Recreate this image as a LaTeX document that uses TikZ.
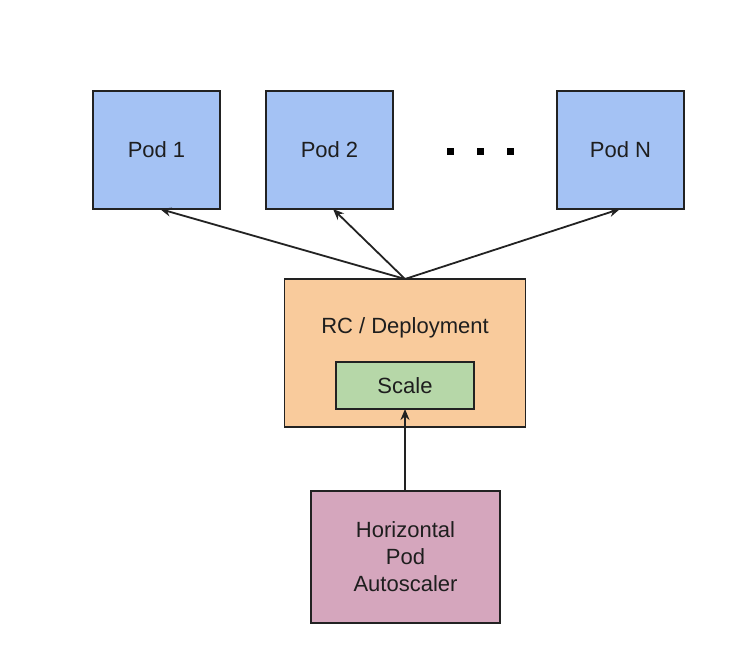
\documentclass[tikz,border=0pt]{standalone}
\usepackage{fontspec}
\setmainfont{Liberation Sans}
\usetikzlibrary{arrows.meta}
\definecolor{podblue}{HTML}{A4C2F4}
\definecolor{rcorange}{HTML}{F9CB9C}
\definecolor{scalegreen}{HTML}{B6D7A8}
\definecolor{hpapink}{HTML}{D5A6BD}
\definecolor{edge}{HTML}{222222}
\definecolor{txt}{HTML}{1E1E1E}
\begin{document}
\begin{tikzpicture}[x=1pt,y=-1pt,
  box/.style={draw=edge,line width=1.8pt,inner sep=0pt,outer sep=0pt,text=txt,font=\fontsize{22}{27}\selectfont,align=center},
  podbox/.style={box,fill=podblue,minimum width=127pt,minimum height=118pt},
  conn/.style={draw=edge,line width=1.8pt,-{Stealth[length=11pt,width=9pt]}},
  dotsq/.style={fill=black,minimum size=7pt,inner sep=0pt}]
\useasboundingbox (0,0) rectangle (747,667);
\node[podbox] (p1) at (156.5,150) {Pod 1};
\node[podbox] (p2) at (329.5,150) {Pod 2};
\node[podbox] (pn) at (620.5,150) {Pod N};
\node[dotsq] (d1) at (450,151) {};
\node[dotsq] (d2) at (480,151) {};
\node[dotsq] (d3) at (510,151) {};
\node[box,fill=rcorange,minimum width=241pt,minimum height=148pt] (rc) at (405,353) {};
\node[text=txt,font=\fontsize{22}{27}\selectfont] (rclabel) at (405,328) {RC / Deployment};
\node[box,fill=scalegreen,minimum width=138pt,minimum height=47pt] (scale) at (405,385.5) {Scale};
\node[box,fill=hpapink,minimum width=189pt,minimum height=132pt] (hpa) at (405.5,557) {Horizontal\\Pod\\Autoscaler};
\coordinate (top) at (405,279);
\draw[conn] (top) -- (160,209);
\draw[conn] (top) -- (333,209);
\draw[conn] (top) -- (620,209);
\draw[conn] (hpa.north -| scale.south) -- (scale.south);
\end{tikzpicture}
\end{document}
